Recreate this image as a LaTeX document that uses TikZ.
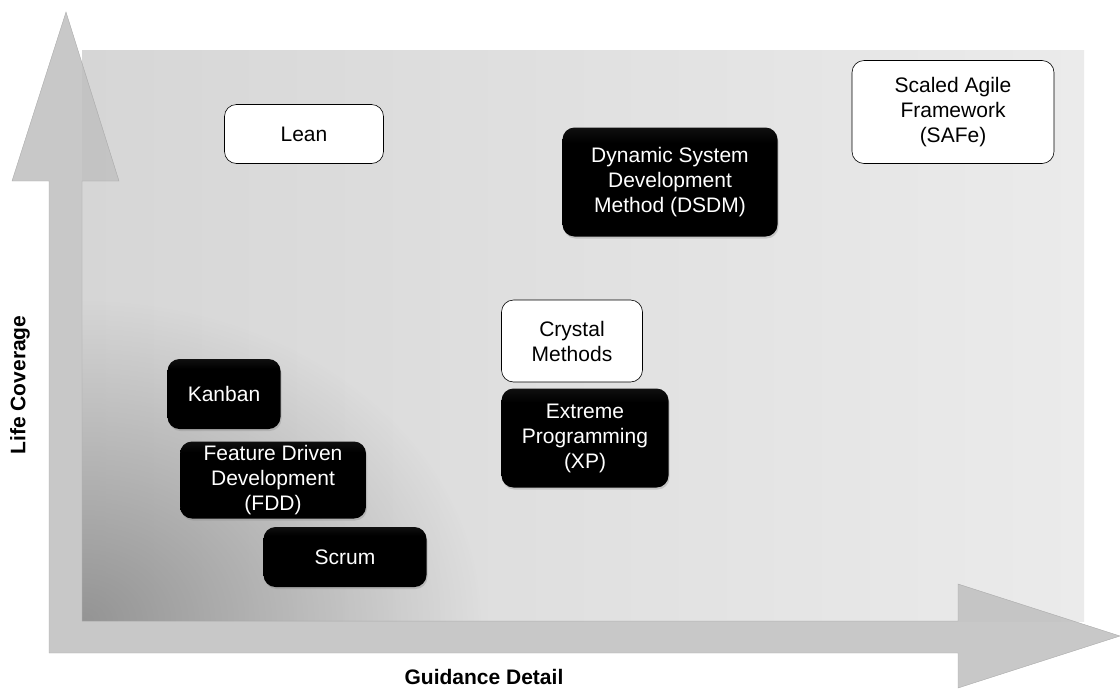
\documentclass[tikz,border=0pt]{standalone}
\usepackage{fontspec}
\setmainfont{Liberation Sans}
\usetikzlibrary{shadows}
\usetikzlibrary{fadings}
\definecolor{bandgray}{HTML}{C2C2C2}
\definecolor{planeleft}{HTML}{D6D6D6}
\definecolor{planeright}{HTML}{EBEBEB}
\tikzfading[name=cornerfade, inner color=transparent!0, outer color=transparent!100]
\pgfdeclareverticalshading{blkshade}{100bp}{color(0bp)=(black); color(68bp)=(black); color(100bp)=(black!72)}
\tikzset{
    blkbox/.style = {rectangle, rounded corners=12pt, align=center, shade, shading=blkshade, text=white, font=\fontsize{21}{25}\selectfont, drop shadow={opacity=0.3, shadow xshift=1pt, shadow yshift=-2pt}},
    whtbox/.style = {rectangle, rounded corners=12pt, draw=black, semithick, fill=white, align=center, font=\fontsize{21}{25}\selectfont, text=black},
    axislabel/.style = {font=\bfseries\fontsize{21}{25}\selectfont, text=black},
    band/.style = {fill=bandgray, draw=gray!70, thin, opacity=0.9},
}
\begin{document}
\begin{tikzpicture}[x=1pt, y=-1pt]
\path[use as bounding box] (0,0) rectangle (1120,689);
% plane
\shade[left color=planeleft, right color=planeright] (82,50) rectangle (1084,621);
\begin{scope}
\clip (82,50) rectangle (1084,621);
\fill[black!42, path fading=cornerfade] (82,621) ellipse (400 and 320);
\end{scope}
% axes
\path[band] (49,653) -- (49,181) -- (12,181) -- (66,12) -- (119,181) -- (82,181) -- (82,621)
    -- (958,621) -- (958,584) -- (1120,636) -- (958,688) -- (958,653) -- cycle;
\node[axislabel, rotate=90] at (20,385) (ylab) {Life Coverage};
\node[axislabel] at (484,677) (xlab) {Guidance Detail};
%
\node[whtbox, minimum width=159pt, minimum height=59pt] at (304,134) (lean) {Lean};
\node[blkbox, minimum width=215pt, minimum height=109pt] at (670,182) (dsdm) {Dynamic System\\Development\\Method (DSDM)};
\node[whtbox, minimum width=202pt, minimum height=103pt] at (953,112) (safe) {Scaled Agile\\Framework\\(SAFe)};
\node[whtbox, minimum width=141pt, minimum height=82pt] at (572,341) (crystal) {Crystal\\Methods};
\node[blkbox, minimum width=167pt, minimum height=99pt] at (585,438) (xp) {Extreme\\Programming\\(XP)};
\node[blkbox, minimum width=113pt, minimum height=70pt] at (224,394) (kanban) {Kanban};
\node[blkbox, minimum width=186pt, minimum height=77pt, inner sep=0pt] at (273,480) (fdd) {Feature Driven\\Development\\(FDD)};
\node[blkbox, minimum width=163pt, minimum height=60pt] at (345,557) (scrum) {Scrum};
\end{tikzpicture}
\end{document}
